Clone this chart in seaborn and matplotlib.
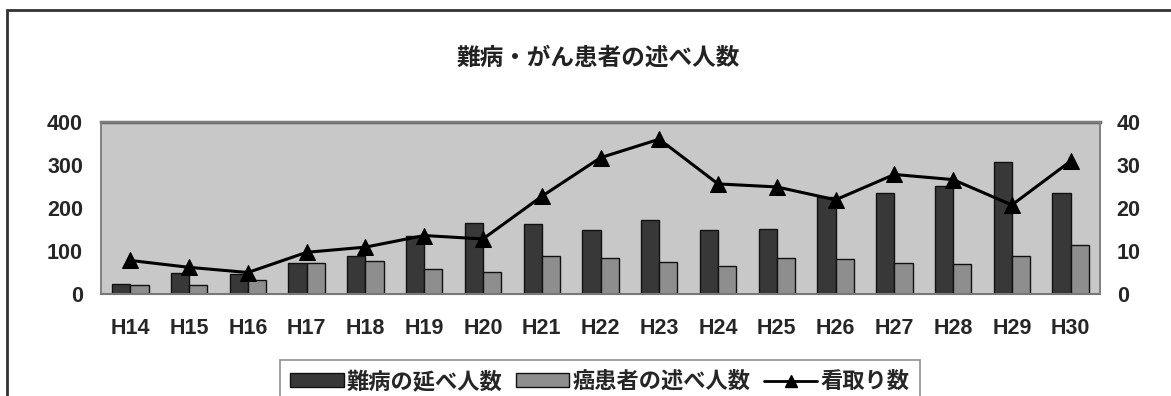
import numpy as np
import pandas as pd
import matplotlib
matplotlib.use("Agg")
import matplotlib.pyplot as plt
import seaborn as sns
from matplotlib.patches import Patch, Rectangle
from matplotlib.lines import Line2D

# 年度ごとの延べ人数と看取り数
years = ["H14", "H15", "H16", "H17", "H18", "H19", "H20", "H21", "H22",
         "H23", "H24", "H25", "H26", "H27", "H28", "H29", "H30"]
nanbyo = [23, 48, 46, 71, 89, 136, 165, 162, 150, 173, 148, 152, 225, 234, 252, 306, 236]
gan = [21, 20, 33, 71, 76, 58, 52, 88, 84, 75, 66, 83, 82, 72, 70, 89, 113]
mitori = [7.8, 6.2, 5.0, 9.7, 10.9, 13.6, 12.8, 22.7, 31.7, 36.0, 25.6, 24.9,
          21.9, 27.8, 26.6, 20.7, 30.9]

series_names = ["難病の延べ人数", "癌患者の述べ人数", "看取り数"]
title = "難病・がん患者の述べ人数"

sns.set_theme(style="white")
jp = ["Noto Sans CJK JP", "DejaVu Sans"]
num = ["Liberation Sans", "DejaVu Sans"]
plt.rcParams["font.family"] = jp

dark = "#383838"
light = "#8e8e8e"
bg = "#c8c8c8"

df = pd.DataFrame({
    "年度": years * 2,
    "人数": nanbyo + gan,
    "区分": [series_names[0]] * len(years) + [series_names[1]] * len(years),
})

fig = plt.figure(figsize=(11.71, 3.96), dpi=100)
ax = fig.add_axes([101 / 1171, 1 - 294 / 396, 999 / 1171, 172 / 396])
ax.set_facecolor(bg)

sns.barplot(data=df, x="年度", y="人数", hue="区分", palette=[dark, light],
            width=0.62, gap=0, edgecolor="#111111", linewidth=1.0,
            saturation=1, ax=ax, legend=False)
ax.set_xlim(-0.5, len(years) - 0.5)
ax.set_ylim(0, 400)
ax.set_yticks([0, 100, 200, 300, 400])
ax.set_xlabel("")
ax.set_ylabel("")
ax.tick_params(axis="y", length=0, pad=13, labelsize=15.5)
ax.tick_params(axis="x", length=0, pad=17, labelsize=15.5)
for lab in ax.get_xticklabels() + ax.get_yticklabels():
    lab.set_family(num)
    lab.set_fontweight("bold")
    lab.set_color("#262626")

ax2 = ax.twinx()
sns.lineplot(x=np.arange(len(years)), y=mitori, ax=ax2, color="black",
             linewidth=2.2, marker="^", markersize=11, markeredgecolor="black")
ax2.set_ylim(0, 40)
ax2.set_yticks([0, 10, 20, 30, 40])
ax2.tick_params(axis="y", length=0, pad=12, labelsize=15.5)
for lab in ax2.get_yticklabels():
    lab.set_family(num)
    lab.set_fontweight("bold")
    lab.set_color("#262626")

for a in (ax, ax2):
    for side, sp in a.spines.items():
        sp.set_color("#808080")
        sp.set_linewidth(1.2)
ax.spines["top"].set_linewidth(2.5)
ax.spines["top"].set_color("#6a6a6a")
ax.spines["bottom"].set_color("#555555")
ax.spines["bottom"].set_linewidth(1.5)

fig.text(598 / 1171, 1 - 58 / 396, title, ha="center", va="center",
         fontsize=17, fontweight="bold", color="#222222")

handles = [
    Patch(facecolor=dark, edgecolor="#111111", linewidth=1),
    Patch(facecolor=light, edgecolor="#111111", linewidth=1),
    Line2D([], [], color="black", linewidth=2, marker="^", markersize=9),
]
leg = fig.legend(handles, series_names, loc="upper center", ncol=3,
                 bbox_to_anchor=(600 / 1171, 1 - 360 / 396),
                 frameon=True, fancybox=False,
                 prop={"family": jp, "size": 16, "weight": "bold"},
                 handlelength=2.4, handleheight=0.6, handletextpad=0.15,
                 columnspacing=0.6, borderpad=0.45, borderaxespad=0)
leg.get_frame().set_edgecolor("#777777")
leg.get_frame().set_linewidth(1.2)
for t in leg.get_texts():
    t.set_color("#262626")

# figure frame
fig.patches.append(Rectangle((7 / 1171, -0.2), 1.2, 1.2 - 10 / 396,
                             transform=fig.transFigure, fill=False,
                             edgecolor="#333333", linewidth=2))

fig.savefig("out.png", dpi=100)
